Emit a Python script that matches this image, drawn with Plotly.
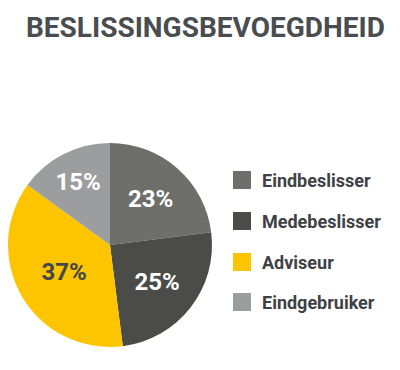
import plotly.graph_objects as go

title = "BESLISSINGSBEVOEGDHEID"
labels = ["Eindbeslisser", "Medebeslisser", "Adviseur", "Eindgebruiker"]
values = [23, 25, 37, 15]
colors = ["#6e6f6b", "#4b4c48", "#fdc400", "#9c9d9f"]
text_colors = ["#ffffff", "#ffffff", "#45474a", "#ffffff"]

OFF = 8  # page body margin
W, H = 400 - OFF, 370 - OFF


def px(x):
    return max(0, (x - OFF) / W)


def py(y):
    return (H - (y - OFF)) / H


fig = go.Figure()
fig.add_trace(go.Pie(
    labels=labels, values=values, sort=False, direction="clockwise", rotation=0,
    marker=dict(colors=colors, line=dict(width=0)),
    texttemplate="%{value}%", textposition="inside", insidetextorientation="horizontal",
    textfont=dict(family="Roboto", size=24, color=text_colors, weight="bold"),
    domain=dict(x=[px(8), px(212)], y=[py(347), py(143)]),
    showlegend=False, hoverinfo="label+value",
))

# legend
legend_y = [180, 221, 262, 302]
shapes, annos = [], []
for lab, col, yc in zip(labels, colors, legend_y):
    shapes.append(dict(type="rect", xref="paper", yref="paper",
                       x0=px(233), x1=px(251), y0=py(yc + 9), y1=py(yc - 9),
                       fillcolor=col, line=dict(width=0)))
    annos.append(dict(x=px(260), y=py(yc), xref="paper", yref="paper",
                      text=lab, showarrow=False, xanchor="left", yanchor="middle",
                      font=dict(family="Roboto", size=18, color="#3f4244", weight="bold")))
annos.append(dict(x=px(206), y=py(27), xref="paper", yref="paper", text=title,
                  showarrow=False, xanchor="center", yanchor="middle",
                  font=dict(family="Roboto", size=28, color="#4a4d50", weight="bold")))

fig.update_layout(width=W, height=H, margin=dict(l=0, r=0, t=0, b=0),
                  paper_bgcolor="white", plot_bgcolor="white",
                  shapes=shapes, annotations=annos)
fig.write_html("out.html")
